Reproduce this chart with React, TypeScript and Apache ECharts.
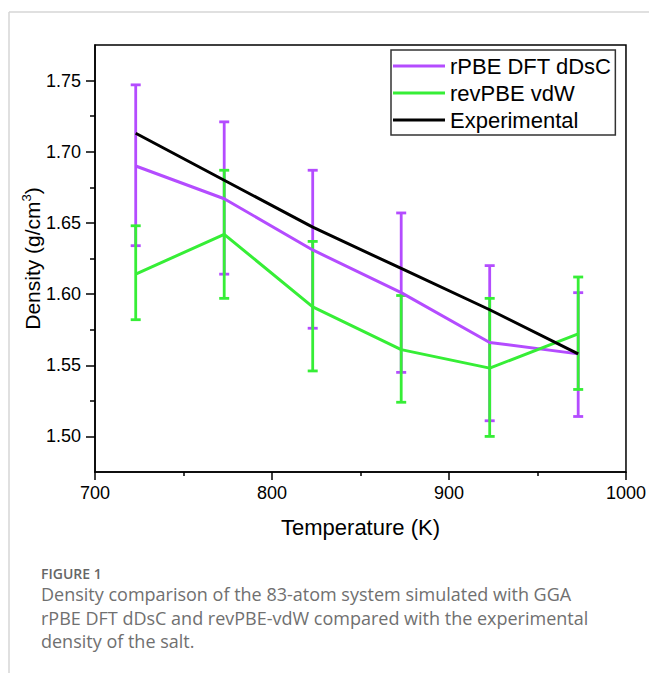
import React, { useEffect, useRef } from "react";
import * as echarts from "echarts";

// Temperatures (K)
const temperatures = [723, 773, 823, 873, 923, 973];

// rPBE DFT dDsC densities and error bar bounds (g/cm3)
const rpbeMean = [1.690, 1.667, 1.631, 1.601, 1.566, 1.558];
const rpbeLow = [1.634, 1.614, 1.576, 1.545, 1.511, 1.514];
const rpbeHigh = [1.747, 1.721, 1.687, 1.657, 1.620, 1.601];

// revPBE vdW densities and error bar bounds (g/cm3)
const revMean = [1.614, 1.642, 1.591, 1.561, 1.548, 1.572];
const revLow = [1.582, 1.597, 1.546, 1.524, 1.500, 1.533];
const revHigh = [1.648, 1.687, 1.637, 1.599, 1.597, 1.612];

// Experimental densities (g/cm3)
const expValues = [1.713, 1.680, 1.647, 1.618, 1.589, 1.558];

// Axis ticks
const yMajorTicks = [1.5, 1.55, 1.6, 1.65, 1.7, 1.75];
const yMinorTicks = [1.525, 1.575, 1.625, 1.675, 1.725];

const seriesNames = ["rPBE DFT dDsC", "revPBE vdW", "Experimental"];
const captionTitle = "FIGURE 1";
const captionLines = [
  "Density comparison of the 83-atom system simulated with GGA",
  "rPBE DFT dDsC and revPBE-vdW compared with the experimental",
  "density of the salt.",
];

const PURPLE = "#b44cff";
const GREEN = "#36ee36";
const BLACK = "#000000";
const FONT = "'Liberation Sans', Arial, sans-serif";
const CAPTION_FONT = "'Open Sans', 'Noto Sans', sans-serif";

function errorBarSeries(name: string, color: string, low: number[], high: number[], z: number) {
  const data = temperatures.map((t, i) => [t, low[i], high[i]]);
  return {
    type: "custom",
    name,
    xAxisIndex: 0,
    yAxisIndex: 0,
    z,
    encode: { x: 0, y: [1, 2] },
    data,
    renderItem: (params: any, api: any) => {
      const x = api.value(0);
      const pLo = api.coord([x, api.value(1)]);
      const pHi = api.coord([x, api.value(2)]);
      const hw = 5;
      const style = { stroke: color, lineWidth: 2.8 };
      return {
        type: "group",
        children: [
          { type: "line", shape: { x1: pLo[0], y1: pLo[1], x2: pHi[0], y2: pHi[1] }, style },
          { type: "line", shape: { x1: pHi[0] - hw, y1: pHi[1], x2: pHi[0] + hw, y2: pHi[1] }, style },
          { type: "line", shape: { x1: pLo[0] - hw, y1: pLo[1], x2: pLo[0] + hw, y2: pLo[1] }, style },
        ],
      };
    },
  };
}

function lineSeries(name: string, color: string, values: number[], z: number) {
  return {
    type: "line",
    name,
    xAxisIndex: 0,
    yAxisIndex: 0,
    z,
    symbol: "none",
    lineStyle: { color, width: 3 },
    itemStyle: { color },
    data: temperatures.map((t, i) => [t, values[i]]),
  };
}

export default function App() {
  const ref = useRef<HTMLDivElement>(null);

  useEffect(() => {
    if (!ref.current) return;
    const chart = echarts.init(ref.current, undefined, { renderer: "svg" });
    const axisLineStyle = { color: "#000", width: 1.5 };

    const option: any = {
      animation: false,
      backgroundColor: "#ffffff",
      grid: {
        left: 95,
        right: 23,
        top: 45,
        bottom: 201,
        show: true,
        borderColor: "#000",
        borderWidth: 1.5,
        backgroundColor: "transparent",
      },
      legend: {
        orient: "vertical",
        left: 391,
        top: 50,
        padding: [4, 4, 3, 2],
        itemGap: 3,
        itemWidth: 52,
        itemHeight: 3,
        icon: "rect",
        borderColor: "#333",
        borderWidth: 1.5,
        data: seriesNames,
        textStyle: { fontSize: 22, color: "#000", fontFamily: FONT, lineHeight: 24 },
      },
      xAxis: {
        type: "value",
        min: 700,
        max: 1000,
        interval: 100,
        name: "Temperature (K)",
        nameLocation: "middle",
        nameGap: 44,
        nameMoveOverlap: false,
        nameTextStyle: { fontSize: 22, color: "#000", fontFamily: FONT },
        axisLine: { show: true, lineStyle: axisLineStyle },
        axisTick: { show: true, inside: false, length: 8, lineStyle: axisLineStyle },
        minorTick: { show: true, splitNumber: 2, length: 4, lineStyle: axisLineStyle },
        axisLabel: {
          fontSize: 18,
          color: "#000",
          fontFamily: FONT,
          margin: 12,
          formatter: (v: number) => String(v),
        },
        splitLine: { show: false },
      },
      yAxis: [
        {
          type: "value",
          min: 1.475,
          max: 1.775,
          name: "Density (g/cm{sup|3})",
          nameLocation: "middle",
          nameGap: 51,
          nameMoveOverlap: false,
          nameTextStyle: {
            fontSize: 21,
            color: "#000",
            fontFamily: FONT,
            lineHeight: 24,
            rich: {
              sup: { fontSize: 13, color: "#000", fontFamily: FONT, verticalAlign: "top", lineHeight: 12 },
            },
          },
          axisLine: { show: true, lineStyle: axisLineStyle },
          axisTick: { show: true, inside: false, length: 9, lineStyle: axisLineStyle, customValues: yMajorTicks },
          axisLabel: {
            fontSize: 18,
            color: "#000",
            fontFamily: FONT,
            margin: 14,
            customValues: yMajorTicks,
            formatter: (v: number) => v.toFixed(2),
          },
          splitLine: { show: false },
        },
        {
          type: "value",
          position: "left",
          min: 1.475,
          max: 1.775,
          axisLine: { show: false },
          axisTick: { show: true, inside: false, length: 5, lineStyle: axisLineStyle, customValues: yMinorTicks },
          axisLabel: { show: false },
          splitLine: { show: false },
        },
      ],
      series: [
        errorBarSeries("rPBE error", PURPLE, rpbeLow, rpbeHigh, 2),
        errorBarSeries("revPBE error", GREEN, revLow, revHigh, 3),
        lineSeries(seriesNames[0], PURPLE, rpbeMean, 4),
        lineSeries(seriesNames[1], GREEN, revMean, 5),
        lineSeries(seriesNames[2], BLACK, expValues, 6),
      ],
      graphic: [
        { type: "line", shape: { x1: 9, y1: 12, x2: 649, y2: 12 }, style: { stroke: "#d6d6d6", lineWidth: 1.5 } },
        { type: "line", shape: { x1: 9, y1: 12, x2: 9, y2: 673 }, style: { stroke: "#d6d6d6", lineWidth: 1.5 } },
        {
          type: "text",
          x: 41,
          y: 573,
          style: {
            text: captionTitle,
            fill: "#666",
            fontSize: 14,
            lineHeight: 14,
            fontWeight: 600,
            fontFamily: CAPTION_FONT,
            verticalAlign: "middle",
          },
        },
        ...captionLines.map((line, i) => ({
          type: "text",
          x: 41,
          y: 594 + i * 23.5,
          style: {
            text: line,
            fill: "#707070",
            fontSize: 18,
            lineHeight: 18,
            fontFamily: CAPTION_FONT,
            verticalAlign: "middle",
          },
        })),
      ],
    };

    chart.setOption(option);
    return () => chart.dispose();
  }, []);

  return (
    <div
      ref={ref}
      style={{ position: "fixed", left: 0, top: 0, width: 649, height: 673, background: "#fff" }}
    />
  );
}
